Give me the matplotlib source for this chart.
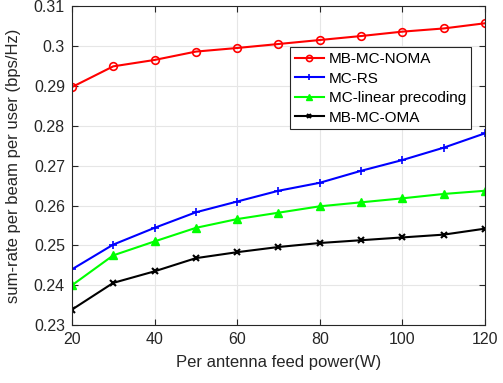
import numpy as np
import matplotlib
matplotlib.use('Agg')
from matplotlib import pyplot as plt
from matplotlib.ticker import FuncFormatter

plt.rcParams['font.family'] = ['Liberation Sans', 'DejaVu Sans']

# data
power = [20, 30, 40, 50, 60, 70, 80, 90, 100, 110, 120]
noma = [0.2897, 0.2949, 0.2965, 0.2986, 0.2995, 0.3005, 0.3015, 0.3025, 0.3036, 0.3044, 0.3057]
rs = [0.2440, 0.2502, 0.2544, 0.2583, 0.2610, 0.2637, 0.2657, 0.2687, 0.2714, 0.2745, 0.2781]
linear = [0.2400, 0.2475, 0.2510, 0.2544, 0.2566, 0.2582, 0.2598, 0.2608, 0.2618, 0.2629, 0.2637]
oma = [0.2339, 0.2406, 0.2435, 0.2468, 0.2483, 0.2496, 0.2506, 0.2513, 0.2520, 0.2527, 0.2542]

labels = ['MB-MC-NOMA', 'MC-RS', 'MC-linear precoding', 'MB-MC-OMA']

fig = plt.figure(figsize=(5.03, 3.83), dpi=100)
ax = fig.add_axes([0.143, 0.151, 0.821, 0.833])

ax.plot(power, noma, color='#ff0000', lw=1.5, marker='o', ms=5.5, mfc='none', mew=1.2, label=labels[0])
ax.plot(power, rs, color='#0000ff', lw=1.5, marker='+', ms=5.5, mew=1.2, label=labels[1])
ax.plot(power, linear, color='#00ff00', lw=1.5, marker='^', ms=6, mfc='#00ff00', label=labels[2])
ax.plot(power, oma, color='black', lw=1.5, marker='x', ms=4, mew=1.5, label=labels[3])

ax.set_xlim(20, 120)
ax.set_ylim(0.23, 0.31)
ax.set_xticks(np.arange(20, 121, 20))
ax.set_yticks(np.arange(0.23, 0.3101, 0.01))
ax.yaxis.set_major_formatter(FuncFormatter(lambda v, p: '{:g}'.format(round(v, 2))))

ax.grid(True, color='#e6e6e6', lw=0.8)
ax.set_axisbelow(True)
for s in ax.spines.values():
    s.set_color('#262626')
    s.set_linewidth(0.8)
ax.tick_params(direction='in', top=True, right=True, length=4, labelsize=11.5,
               colors='#262626', labelcolor='#262626', pad=5)

ax.set_xlabel('Per antenna feed power(W)', fontsize=12, color='#262626', labelpad=6)
ax.set_ylabel('sum-rate per beam per user (bps/Hz)', fontsize=12, color='#262626', labelpad=9)

leg = ax.legend(loc='upper right', bbox_to_anchor=(0.966, 0.871), fontsize=11, fancybox=False,
                edgecolor='#262626', framealpha=1, borderpad=0.3, labelspacing=0.37,
                handlelength=1.9, handletextpad=0.35, borderaxespad=0, markerscale=0.8)
leg.get_frame().set_linewidth(0.8)

fig.savefig('out.png', dpi=100)
